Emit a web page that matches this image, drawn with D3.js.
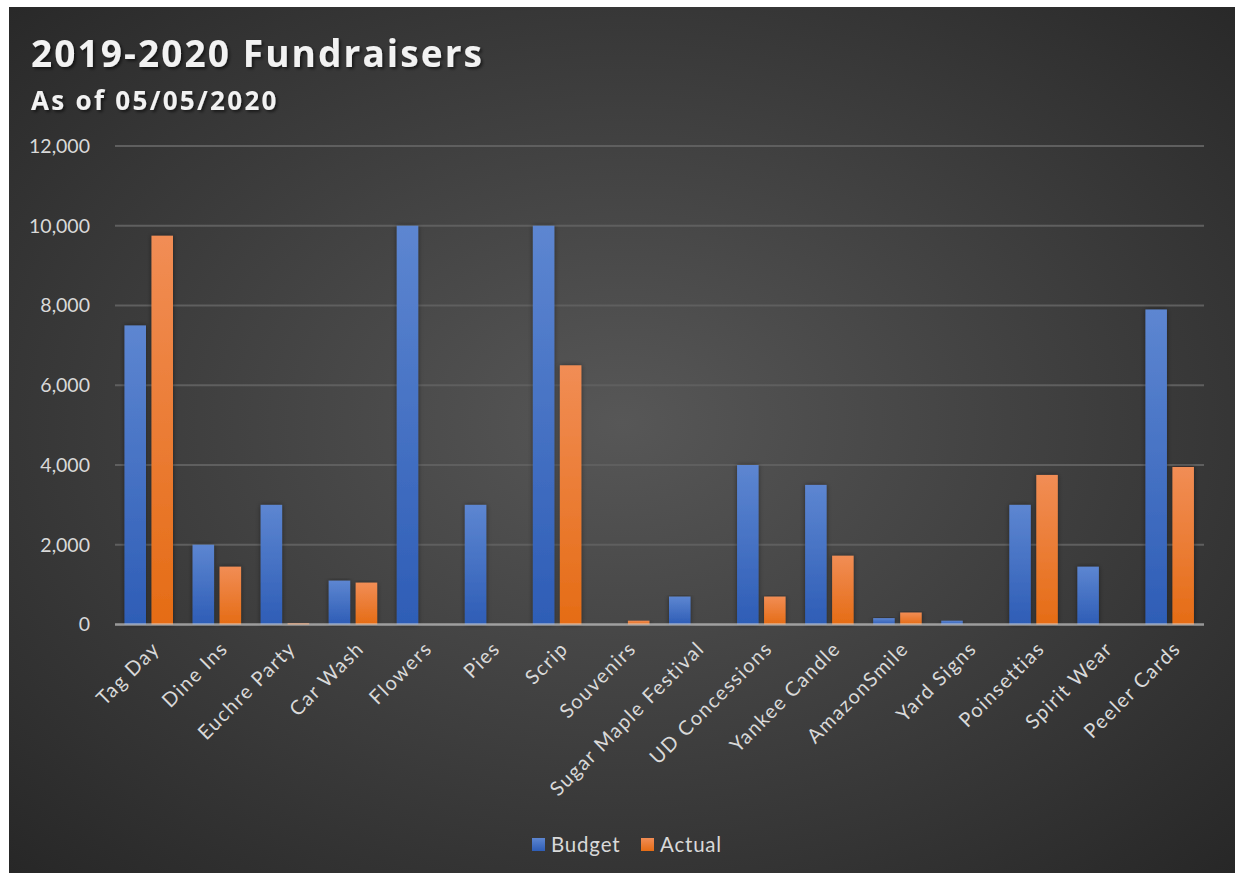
<!DOCTYPE html>
<html>
<head>
<meta charset="utf-8">
<script src="https://cdn.jsdelivr.net/npm/d3@7.9.0/dist/d3.min.js"></script>
<style>
  body { margin: 0; background: #fff; }
  svg { display: block; }
</style>
</head>
<body>
<svg id="chart" width="1244" height="878"></svg>
<script>
const categories = ['Tag Day', 'Dine Ins', 'Euchre Party', 'Car Wash', 'Flowers', 'Pies', 'Scrip',
  'Souvenirs', 'Sugar Maple Festival', 'UD Concessions', 'Yankee Candle', 'AmazonSmile',
  'Yard Signs', 'Poinsettias', 'Spirit Wear', 'Peeler Cards'];
const budget = [7500, 2000, 3000, 1100, 10000, 3000, 10000, 0, 700, 4000, 3500, 160, 95, 3000, 1450, 7900];
const actual = [9750, 1450, 30, 1050, 0, 0, 6500, 95, 0, 700, 1725, 300, 0, 3750, 0, 3950];
const seriesNames = ['Budget', 'Actual'];
const yTicks = [0, 2000, 4000, 6000, 8000, 10000, 12000];

const svg = d3.select('#chart');
const defs = svg.append('defs');

// background
let bg = defs.append('radialGradient').attr('id', 'bg')
  .attr('cx', '50%').attr('cy', '48%').attr('r', '72%');
bg.append('stop').attr('offset', '0%').attr('stop-color', '#575757');
bg.append('stop').attr('offset', '100%').attr('stop-color', '#272727');

let blueGrad = defs.append('linearGradient').attr('id', 'blue').attr('x1', 0).attr('y1', 0).attr('x2', 0).attr('y2', 1);
blueGrad.append('stop').attr('offset', '0%').attr('stop-color', '#5d86d1');
blueGrad.append('stop').attr('offset', '100%').attr('stop-color', '#2e5db6');
let orangeGrad = defs.append('linearGradient').attr('id', 'orange').attr('x1', 0).attr('y1', 0).attr('x2', 0).attr('y2', 1);
orangeGrad.append('stop').attr('offset', '0%').attr('stop-color', '#f18d55');
orangeGrad.append('stop').attr('offset', '100%').attr('stop-color', '#e56c15');

defs.append('filter').attr('id', 'shadow').attr('x', '-20%').attr('y', '-20%').attr('width', '140%').attr('height', '140%')
  .append('feDropShadow').attr('dx', 2).attr('dy', 2).attr('stdDeviation', 1.5).attr('flood-color', '#000').attr('flood-opacity', 0.55);
defs.append('filter').attr('id', 'barShadow').attr('x', '-30%').attr('y', '-5%').attr('width', '160%').attr('height', '110%')
  .append('feDropShadow').attr('dx', 0).attr('dy', 0).attr('stdDeviation', 2.5).attr('flood-color', '#000').attr('flood-opacity', 0.45);

svg.append('rect').attr('x', 9).attr('y', 7).attr('width', 1226).attr('height', 866).attr('fill', 'url(#bg)');

const plotLeft = 115, plotRight = 1204, plotTop = 146, plotBottom = 624.5;

const x0 = d3.scaleBand().domain(categories).range([plotLeft, plotRight]).padding(0);
const x1 = d3.scaleBand().domain(seriesNames).range([9.5, 58]).paddingInner(0.204).paddingOuter(0);
const y = d3.scaleLinear().domain([0, 12000]).range([plotBottom, plotTop]);

// gridlines
svg.append('g')
  .selectAll('line')
  .data(yTicks.filter((d) => d > 0))
  .join('line')
  .attr('x1', plotLeft).attr('x2', plotRight)
  .attr('y1', (d) => y(d)).attr('y2', (d) => y(d))
  .attr('stroke', '#5f5f5f').attr('stroke-width', 1.8);

// y axis labels
const yAxis = svg.append('g')
  .attr('transform', `translate(${plotLeft - 25},0)`)
  .call(d3.axisLeft(y).tickValues(yTicks).tickFormat(d3.format(',')).tickSize(0).tickPadding(0));
yAxis.select('.domain').remove();
yAxis.selectAll('text')
  .attr('fill', '#d9d9d9')
  .attr('font-family', 'Lato, sans-serif')
  .attr('font-size', 19.5);

// bars
const values = { Budget: budget, Actual: actual };
const groups = svg.append('g')
  .selectAll('g')
  .data(categories)
  .join('g')
  .attr('transform', (d) => `translate(${x0(d)},0)`);

groups.selectAll('rect')
  .data((d, i) => seriesNames.map((s) => ({ s, v: values[s][i] })).filter((e) => e.v > 0))
  .join('rect')
  .attr('x', (d) => x1(d.s))
  .attr('width', x1.bandwidth())
  .attr('y', (d) => y(d.v))
  .attr('height', (d) => plotBottom - y(d.v))
  .attr('fill', (d) => d.s === 'Budget' ? 'url(#blue)' : 'url(#orange)')
  .attr('filter', 'url(#barShadow)');

// baseline
svg.append('line')
  .attr('x1', plotLeft).attr('x2', plotRight)
  .attr('y1', plotBottom).attr('y2', plotBottom)
  .attr('stroke', 'rgba(220,220,220,0.6)').attr('stroke-width', 2.6);

// x labels
svg.append('g')
  .selectAll('text')
  .data(categories)
  .join('text')
  .attr('transform', (d) => `translate(${x0(d) + x0.bandwidth() / 2 + 12},650) rotate(-45)`)
  .attr('text-anchor', 'end')
  .attr('fill', '#d9d9d9')
  .attr('font-family', 'Lato, sans-serif')
  .attr('font-size', 20)
  .attr('letter-spacing', 1.4)
  .text((d) => d);

// title
svg.append('text')
  .attr('x', 31).attr('y', 67)
  .attr('fill', '#f2f2f2')
  .attr('font-family', '"Open Sans", sans-serif')
  .attr('font-weight', 'bold')
  .attr('font-size', 37)
  .attr('letter-spacing', 2.1)
  .attr('filter', 'url(#shadow)')
  .text('2019-2020 Fundraisers');

svg.append('text')
  .attr('x', 31).attr('y', 110)
  .attr('fill', '#f2f2f2')
  .attr('font-family', '"Open Sans", sans-serif')
  .attr('font-weight', 'bold')
  .attr('font-size', 26)
  .attr('letter-spacing', 2.3)
  .attr('filter', 'url(#shadow)')
  .text('As of 05/05/2020');

// legend
const legend = svg.append('g')
  .selectAll('g')
  .data(seriesNames)
  .join('g')
  .attr('transform', (d, i) => `translate(${532 + i * 109},838)`);
legend.append('rect')
  .attr('width', 13).attr('height', 13)
  .attr('fill', (d) => d === 'Budget' ? 'url(#blue)' : 'url(#orange)');
legend.append('text')
  .attr('x', 19).attr('y', 13.5)
  .attr('fill', '#d9d9d9')
  .attr('font-family', 'Lato, sans-serif')
  .attr('font-size', 20.5)
  .attr('letter-spacing', 0.8)
  .text((d) => d);
</script>
</body>
</html>
